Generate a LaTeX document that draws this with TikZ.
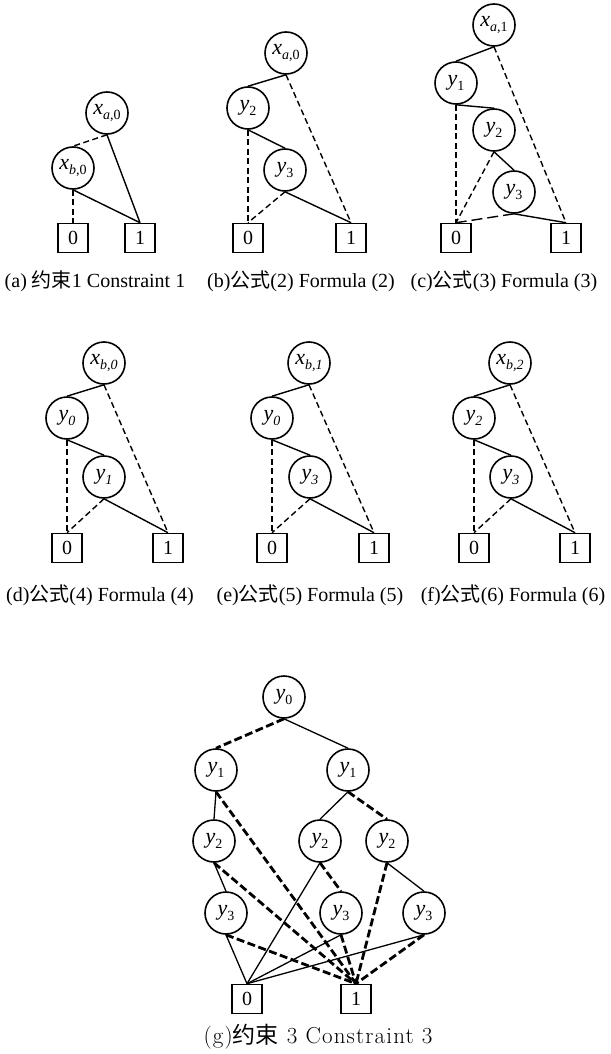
\documentclass[tikz,border=0pt]{standalone}
\usepackage{fontspec}
\setmainfont{Liberation Serif}
\newfontfamily\cjk{Noto Sans CJK SC}
\newfontfamily\lmr[LetterSpace=5]{Latin Modern Roman}
\newcommand\vlab[2]{\textit{#1}\raisebox{-4.5pt}{\fontsize{14}{14}\selectfont #2}}
\tikzset{
 vn/.style={circle, draw, line width=1.6pt, minimum size=42pt, inner sep=0pt, font=\fontsize{22}{22}\selectfont},
 tn/.style={rectangle, draw, line width=1.6pt, minimum width=30pt, minimum height=29pt, inner sep=0pt, font=\fontsize{20}{20}\selectfont},
 hi/.style={line width=1.4pt},
 lo/.style={line width=1.4pt, dash pattern=on 6pt off 3.5pt},
 lolong/.style={line width=1.4pt, dash pattern=on 11pt off 5pt},
 ghi/.style={line width=1.3pt},
 glo/.style={line width=2.8pt, dash pattern=on 8pt off 3.5pt},
 capt/.style={inner sep=0pt, font=\fontsize{20}{20}\selectfont},
}
\begin{document}
\begin{tikzpicture}[x=1pt,y=-1pt]
\useasboundingbox (0,0) rectangle (610,1054);
% (a)
\node[vn] (a1) at (107,113) {\vlab{x}{\textit{a},0}};
\node[vn] (a2) at (73,168) {\vlab{x}{\textit{b},0}};
\node[tn] (a0b) at (73,238) {0};
\node[tn] (a1b) at (140,238) {1};
\draw[lo] (a1.south) -- (a2.north);
\draw[hi] (a1.south) -- (a1b.north);
\draw[lo] (a2.south) -- (a0b.north);
\draw[hi] (a2.south) -- (a1b.north);
\node[capt] (acap) at (95,281) {(a) {\cjk 约束}1 Constraint 1};
% (b)
\node[vn] (b1) at (286,53) {\vlab{x}{\textit{a},0}};
\node[vn] (b2) at (248,108) {\vlab{y}{2}};
\node[vn] (b3) at (285,170) {\vlab{y}{3}};
\node[tn] (b0b) at (248,238) {0};
\node[tn] (b1b) at (351,238) {1};
\draw[hi] (b1.south) -- (b2.north);
\draw[lo] (b1.south) -- (b1b.north);
\draw[lo] (b2.south) -- (b0b.north);
\draw[hi] (b2.south) -- (b3.north);
\draw[lo] (b3.south) -- (b0b.north);
\draw[hi] (b3.south) -- (b1b.north);
\node[capt] (bcap) at (301,281) {(b){\cjk 公式}(2) Formula (2)};
% (c)
\node[vn] (c1) at (494,25) {\vlab{x}{\textit{a},1}};
\node[vn] (c2) at (456,83) {\vlab{y}{1}};
\node[vn] (c3) at (494,130) {\vlab{y}{2}};
\node[vn] (c4) at (514,192) {\vlab{y}{3}};
\node[tn] (c0b) at (456,238) {0};
\node[tn] (c1b) at (566,238) {1};
\draw[hi] (c1.south) -- (c2.north);
\draw[lo] (c1.south) -- (c1b.north);
\draw[lo] (c2.south) -- (c0b.north);
\draw[hi] (c2.south) -- (c3.north);
\draw[lo] (c3.south) -- (c0b.north);
\draw[hi] (c3.south) -- (c4.north);
\draw[lolong] (c4.south) -- (c0b.north);
\draw[hi] (c4.south) -- (c1b.north);
\node[capt] (ccap) at (504,281) {(c){\cjk 公式}(3) Formula (3)};
% (d)
\node[vn] (d1) at (104,363) {\vlab{x}{\textit{b,0}}};
\node[vn] (d2) at (67,418) {\vlab{y}{\textit{0}}};
\node[vn] (d3) at (104,477) {\vlab{y}{\textit{1}}};
\node[tn] (d0b) at (67,548) {0};
\node[tn] (d1b) at (168,548) {1};
\draw[hi] (d1.south) -- (d2.north);
\draw[lo] (d1.south) -- (d1b.north);
\draw[lo] (d2.south) -- (d0b.north);
\draw[hi] (d2.south) -- (d3.north);
\draw[lo] (d3.south) -- (d0b.north);
\draw[hi] (d3.south) -- (d1b.north);
\node[capt] (dcap) at (100,595) {(d){\cjk 公式}(4) Formula (4)};
% (e)
\node[vn] (e1) at (309,363) {\vlab{x}{\textit{b,1}}};
\node[vn] (e2) at (272,418) {\vlab{y}{\textit{0}}};
\node[vn] (e3) at (310,477) {\vlab{y}{\textit{3}}};
\node[tn] (e0b) at (272,548) {0};
\node[tn] (e1b) at (374,548) {1};
\draw[hi] (e1.south) -- (e2.north);
\draw[lo] (e1.south) -- (e1b.north);
\draw[lo] (e2.south) -- (e0b.north);
\draw[hi] (e2.south) -- (e3.north);
\draw[lo] (e3.south) -- (e0b.north);
\draw[hi] (e3.south) -- (e1b.north);
\node[capt] (ecap) at (310,595) {(e){\cjk 公式}(5) Formula (5)};
% (f)
\node[vn] (f1) at (510,363) {\vlab{x}{\textit{b,2}}};
\node[vn] (f2) at (474,418) {\vlab{y}{\textit{2}}};
\node[vn] (f3) at (511,477) {\vlab{y}{\textit{3}}};
\node[tn] (f0b) at (474,548) {0};
\node[tn] (f1b) at (575,548) {1};
\draw[hi] (f1.south) -- (f2.north);
\draw[lo] (f1.south) -- (f1b.north);
\draw[lo] (f2.south) -- (f0b.north);
\draw[hi] (f2.south) -- (f3.north);
\draw[lo] (f3.south) -- (f0b.north);
\draw[hi] (f3.south) -- (f1b.north);
\node[capt] (fcap) at (513,595) {(f){\cjk 公式}(6) Formula (6)};
% (g)
\node[vn] (g0) at (284,697) {\vlab{y}{0}};
\node[vn] (g1a) at (216,770) {\vlab{y}{1}};
\node[vn] (g1b) at (348,770) {\vlab{y}{1}};
\node[vn] (g2a) at (214,841) {\vlab{y}{2}};
\node[vn] (g2b) at (320,841) {\vlab{y}{2}};
\node[vn] (g2c) at (387,841) {\vlab{y}{2}};
\node[vn] (g3a) at (226,913) {\vlab{y}{3}};
\node[vn] (g3b) at (341,913) {\vlab{y}{3}};
\node[vn] (g3c) at (424,913) {\vlab{y}{3}};
\node[tn] (g0b) at (247,999) {0};
\node[tn] (g1bx) at (356,999) {1};
\draw[glo] (g0.south) -- (g1a.north);
\draw[ghi] (g0.south) -- (g1b.north);
\draw[ghi] (g1a.south) -- (g2a.north);
\draw[glo] (g1a.south) -- (g1bx.north);
\draw[ghi] (g1b.south) -- (g2b.north);
\draw[glo] (g1b.south) -- (g2c.north);
\draw[ghi] (g2a.south) -- (g3a.north);
\draw[glo] (g2a.south) -- (g1bx.north);
\draw[ghi] (g2b.south) -- (g0b.north);
\draw[glo] (g2b.south) -- (g3b.north);
\draw[glo] (g2c.south) -- (g1bx.north);
\draw[ghi] (g2c.south) -- (g3c.north);
\draw[ghi] (g3a.south) -- (g0b.north);
\draw[glo] (g3a.south) -- (g1bx.north);
\draw[ghi] (g3b.south) -- (g0b.north);
\draw[glo] (g3b.south) -- (g1bx.north);
\draw[ghi] (g3c.south) -- (g0b.north);
\draw[glo] (g3c.south) -- (g1bx.north);
\node[inner sep=0pt, font=\lmr\fontsize{23}{23}\selectfont] (gcap) at (318,1037) {(g){\cjk 约束} 3 Constraint 3};
\end{tikzpicture}
\end{document}
